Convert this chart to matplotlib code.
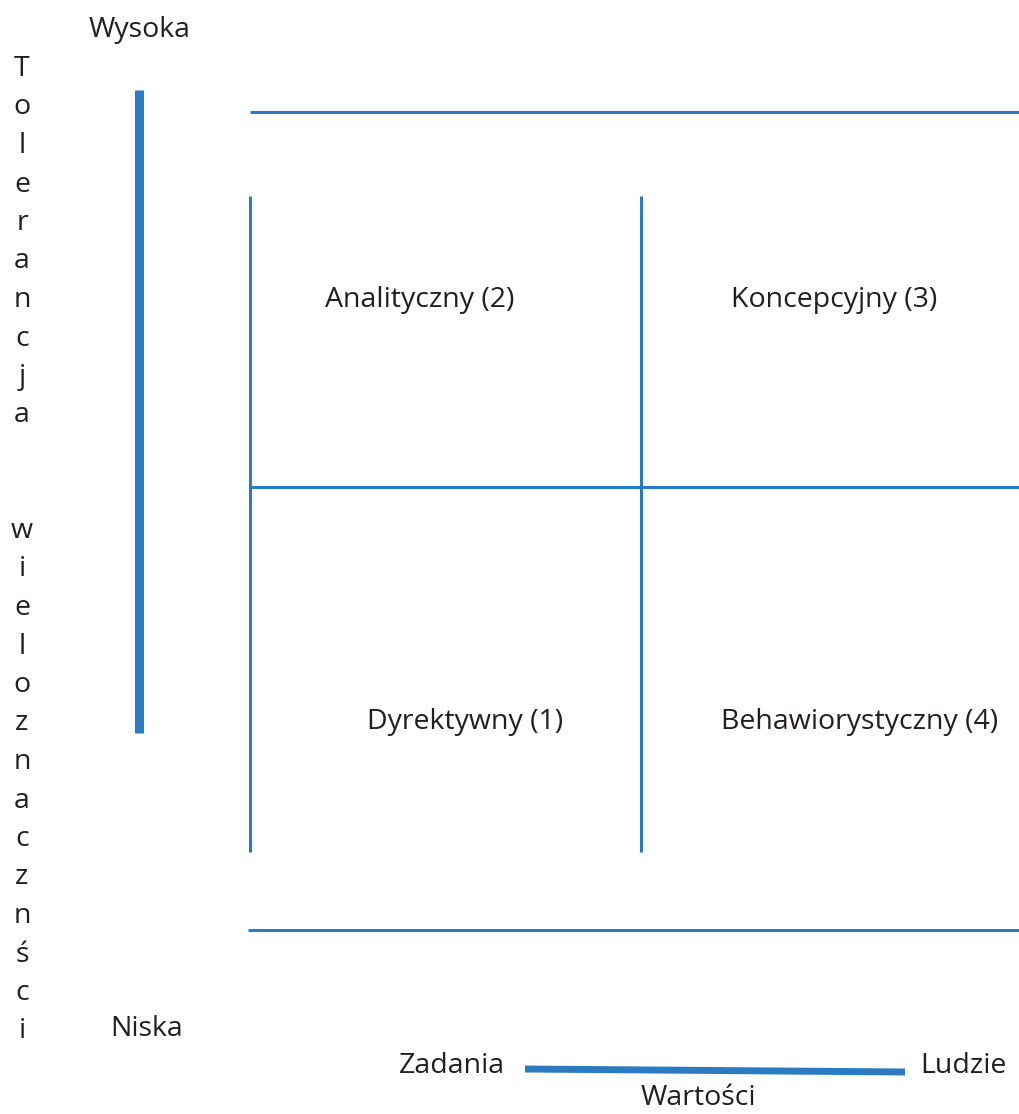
import matplotlib
matplotlib.use("Agg")
import matplotlib.pyplot as plt

plt.rcParams["font.family"] = ["Open Sans", "DejaVu Sans"]

BLUE = "#2a7bc4"
TEXT = "#231f20"

# grid lines of the 2x2 matrix (x0, y0, x1, y1) in canvas units
grid_h = [(250, 112, 1019, 112), (250, 487, 1019, 487), (248, 930, 1019, 930)]
grid_v = [(250, 196, 250, 852), (641, 196, 641, 852)]

# quadrant labels
quad_labels = ["Analityczny (2)", "Koncepcyjny (3)", "Dyrektywny (1)", "Behawiorystyczny (4)"]
quad_pos = [(420, 300), (834, 300), (465, 722), (860, 722)]

# vertical axis title, one letter per line (two empty lines between words)
axis_letters = list("Tolerancja") + ["", ""] + ["w", "i", "e", "l", "o", "z", "n", "a", "c", "z", "n", "ś", "c", "i"]

fig = plt.figure(figsize=(10.19, 11.14), dpi=100)
ax = fig.add_axes([0, 0, 1, 1])
ax.set_xlim(0, 1019)
ax.set_ylim(1114, 0)
ax.axis("off")

for x0, y0, x1, y1 in grid_h + grid_v:
    ax.plot([x0, x1], [y0, y1], color=BLUE, linewidth=2.2, solid_capstyle="butt")

# thick scale bars
ax.plot([139, 139], [90, 733], color=BLUE, linewidth=6.5, solid_capstyle="butt")
ax.plot([525, 905], [1069, 1072], color=BLUE, linewidth=5.0, solid_capstyle="butt")

fs = 20.5
for lbl, (x, y) in zip(quad_labels, quad_pos):
    ax.text(x, y, lbl, ha="center", va="center", fontsize=fs, color=TEXT)

for i, ch in enumerate(axis_letters):
    if ch:
        ax.text(22, 69 + i * 38.5, ch, ha="center", va="center", fontsize=fs, color=TEXT)

ax.text(140, 30, "Wysoka", ha="center", va="center", fontsize=fs, color=TEXT)
ax.text(147, 1029, "Niska", ha="center", va="center", fontsize=fs, color=TEXT)
ax.text(452, 1066, "Zadania", ha="center", va="center", fontsize=fs, color=TEXT)
ax.text(963, 1066, "Ludzie", ha="center", va="center", fontsize=fs, color=TEXT)
ax.text(698, 1098, "Wartości", ha="center", va="center", fontsize=fs, color=TEXT)

fig.savefig("out.png", dpi=100)
